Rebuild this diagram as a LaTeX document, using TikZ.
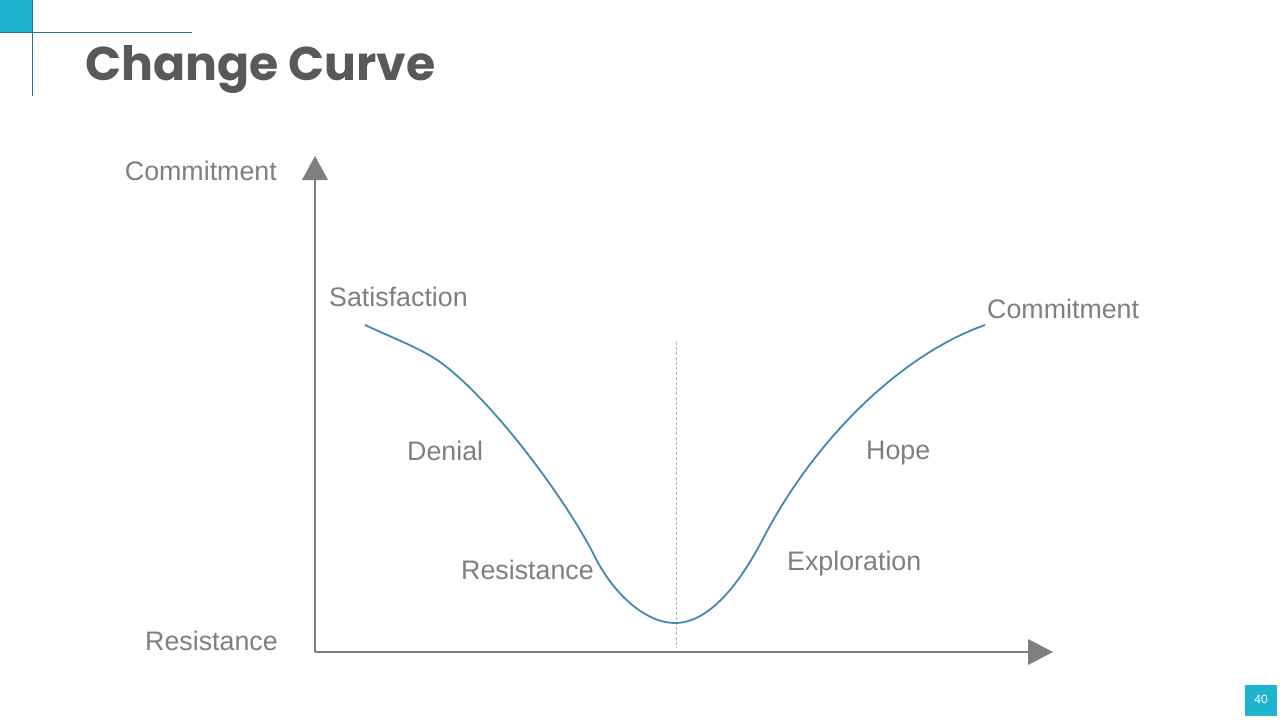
\documentclass[tikz,border=0pt]{standalone}
\usepackage{fontspec}
\setmainfont{Liberation Sans}
\newfontfamily\titlefont{Poppins}
\definecolor{accent}{HTML}{1FB5D0}
\definecolor{darkline}{HTML}{2F6F8A}
\definecolor{axisgray}{HTML}{7F7F7F}
\definecolor{labelgray}{HTML}{7F7F7F}
\definecolor{titlegray}{HTML}{595959}
\definecolor{curveblue}{HTML}{3E8BAD}
\tikzset{
  lbl/.style={text=labelgray, font=\fontsize{26.8}{31}\selectfont, inner sep=0pt},
  axisline/.style={draw=axisgray, line width=2pt},
  tip/.style={fill=axisgray, draw=none},
}
\begin{document}
\begin{tikzpicture}[x=1pt,y=-1pt]
\useasboundingbox (0,0) rectangle (1280,720);
\fill[white] (0,0) rectangle (1280,720);
% corner decoration
\fill[accent] (0,0) rectangle (32,32);
\draw[darkline, line width=0.8pt] (0,32) -- (192,32);
\draw[darkline, line width=0.8pt] (32,0) -- (32,96);
% title
\node[anchor=base west, inner sep=0pt, text=titlegray, font=\titlefont\bfseries\fontsize{47.3}{52}\selectfont] (title) at (85,80) {Change Curve};
% axes
\coordinate (origin) at (315,652);
\coordinate (ytop) at (315,180);
\coordinate (xend) at (1028,652);
\draw[axisline] (origin) -- (ytop);
\draw[axisline] (origin) -- (xend);
\fill[tip] (302,180) -- (315,156) -- (328,180) -- cycle;
\fill[tip] (1028,639) -- (1053,652) -- (1028,665) -- cycle;
% dashed center line
\draw[gray!60, line width=0.7pt, dash pattern=on 3pt off 2pt] (676,342) -- (676,648);
% curve
\coordinate (cA) at (365,325);
\coordinate (cA2) at (440,362);
\coordinate (cB) at (595,557);
\coordinate (cC) at (675,623);
\coordinate (cD) at (765,535);
\coordinate (cE) at (985,325);
\draw[curveblue, line width=1.8pt]
  (cA) .. controls (395,339) and (420,348) .. (cA2)
       .. controls (490,398) and (565,497) .. (cB)
       .. controls (613,593) and (645,623) .. (cC)
       .. controls (720,623) and (755,554) .. (cD)
       .. controls (815,440) and (900,355) .. (cE);
% labels
\node[lbl, anchor=east] (ycommit) at (277,171) {Commitment};
\node[lbl, anchor=east] (yresist) at (278,641) {Resistance};
\node[lbl, anchor=west] (satis) at (329,297) {Satisfaction};
\node[lbl, anchor=west] (commit) at (987,309) {Commitment};
\node[lbl, anchor=west] (denial) at (407,451) {Denial};
\node[lbl, anchor=west] (hope) at (866,453) {Hope};
\node[lbl, anchor=west] (resist) at (461,570) {Resistance};
\node[lbl, anchor=west] (explore) at (787,564) {Exploration};
% page number
\fill[accent] (1245,685) rectangle (1277,716);
\node[text=white, font=\fontsize{12}{14}\selectfont, inner sep=0pt] (pagenum) at (1261,699) {40};
\end{tikzpicture}
\end{document}
